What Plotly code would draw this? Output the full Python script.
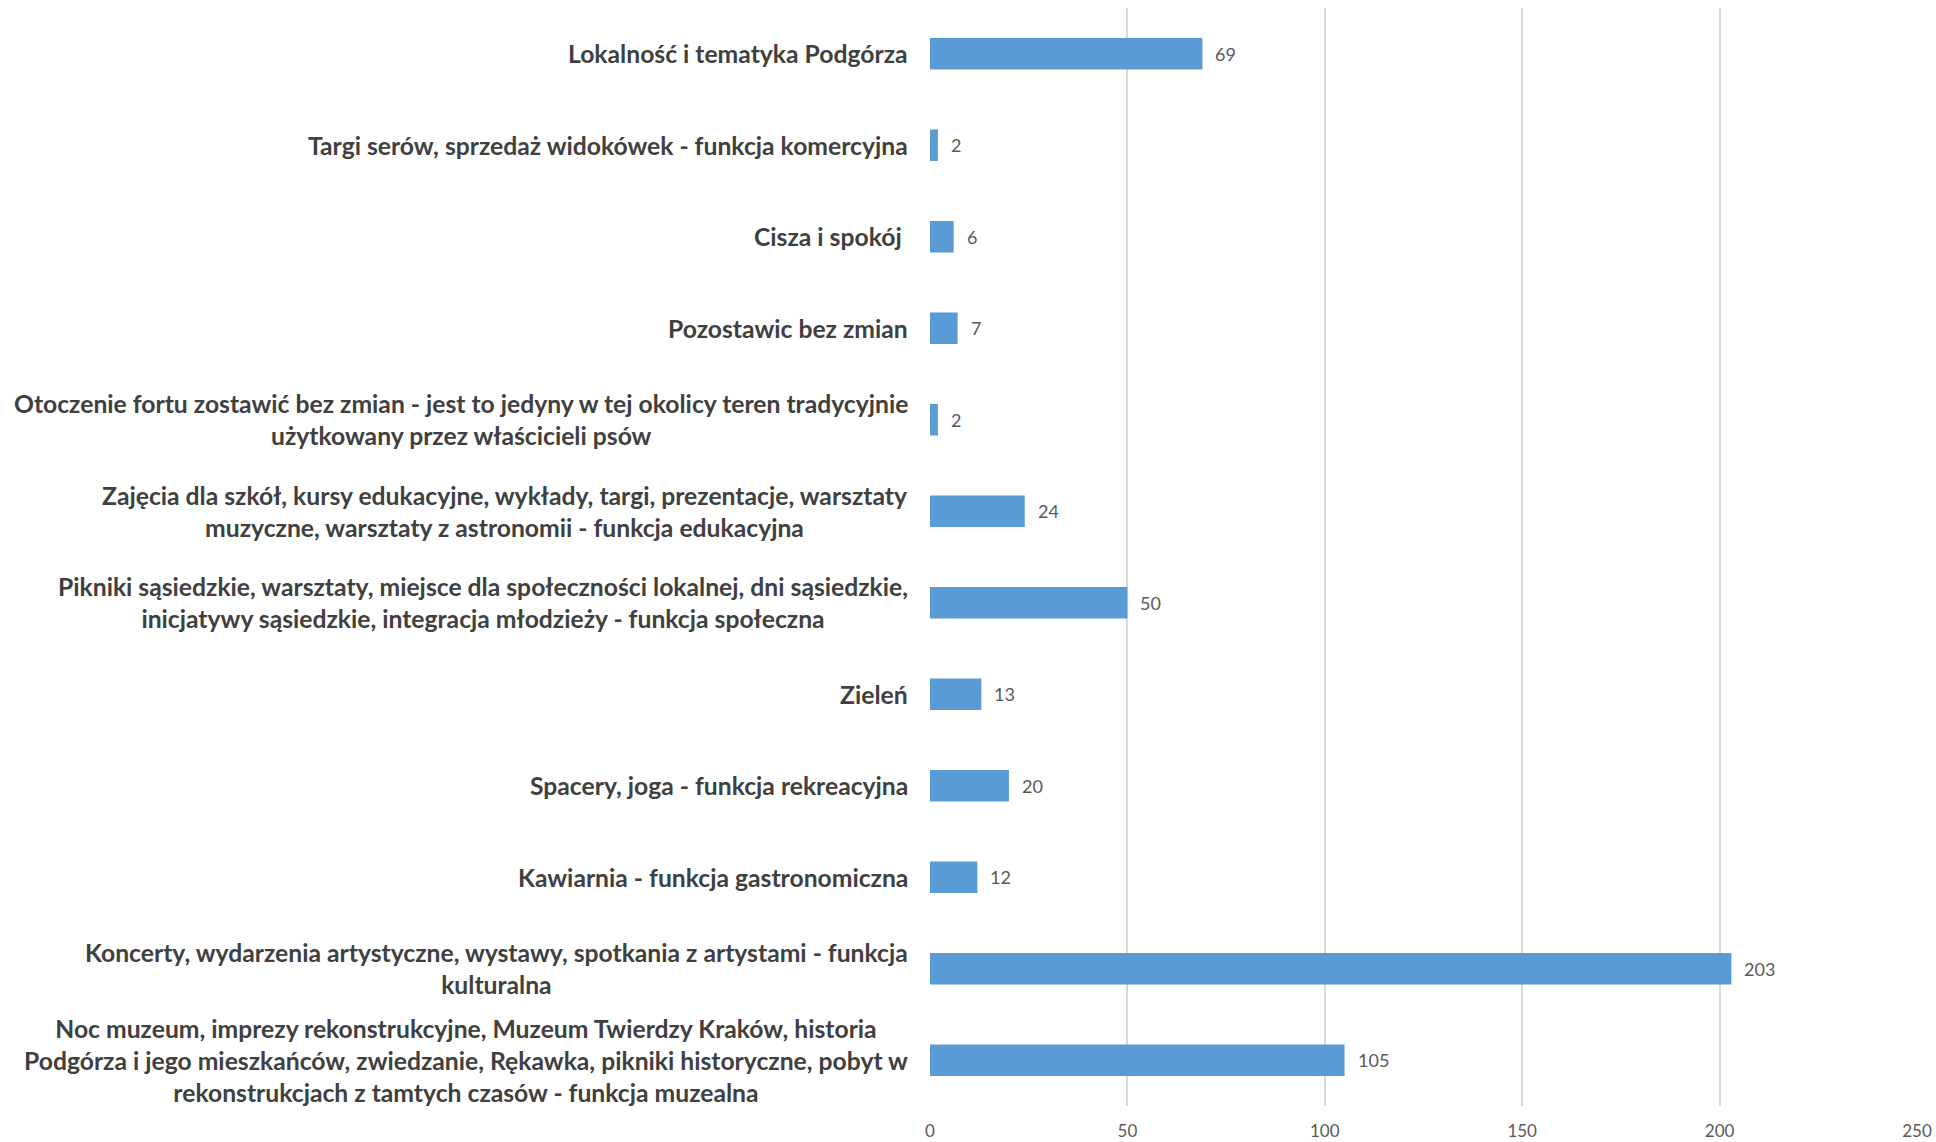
import plotly.graph_objects as go

categories = [
    "Lokalność i tematyka Podgórza",
    "Targi serów, sprzedaż widokówek - funkcja komercyjna",
    "Cisza i spokój ",
    "Pozostawic bez zmian",
    "Otoczenie fortu zostawić bez zmian - jest to jedyny w tej okolicy teren tradycyjnie<br>użytkowany przez właścicieli psów",
    "Zajęcia dla szkół, kursy edukacyjne, wykłady, targi, prezentacje, warsztaty<br>muzyczne, warsztaty z astronomii - funkcja edukacyjna",
    "Pikniki sąsiedzkie, warsztaty, miejsce dla społeczności lokalnej, dni sąsiedzkie,<br>inicjatywy sąsiedzkie, integracja młodzieży - funkcja społeczna",
    "Zieleń",
    "Spacery, joga - funkcja rekreacyjna",
    "Kawiarnia - funkcja gastronomiczna",
    "Koncerty, wydarzenia artystyczne, wystawy, spotkania z artystami - funkcja<br>kulturalna",
    "Noc muzeum, imprezy rekonstrukcyjne, Muzeum Twierdzy Kraków, historia<br>Podgórza i jego mieszkańców, zwiedzanie, Rękawka, pikniki historyczne, pobyt w<br>rekonstrukcjach z tamtych czasów - funkcja muzealna",
]
values = [69, 2, 6, 7, 2, 24, 50, 13, 20, 12, 203, 105]
x_ticks = [0, 50, 100, 150, 200, 250]

ids = list(range(len(categories)))

fig = go.Figure()
fig.add_trace(go.Bar(
    x=values, y=ids, orientation="h",
    marker=dict(color="#5B9BD5", line=dict(width=0)),
    width=0.345,
    hoverinfo="x",
))

annotations = []
for i, (c, v) in enumerate(zip(categories, values)):
    annotations.append(dict(
        x=0, y=i, xref="paper", yref="y", text=c, showarrow=False,
        xanchor="right", yanchor="middle", xshift=-20, align="center",
        font=dict(family="Lato", size=24.7, color="#404040", weight="bold"),
    ))
    annotations.append(dict(
        x=v, y=i, xref="x", yref="y", text=str(v), showarrow=False,
        xanchor="left", yanchor="middle", xshift=11,
        font=dict(family="Lato", size=18, color="#595959"),
    ))

fig.update_layout(
    template="none",
    width=1936, height=1142,
    margin=dict(l=930, r=19, t=8, b=36, autoexpand=False),
    paper_bgcolor="white", plot_bgcolor="white",
    showlegend=False,
    annotations=annotations,
    xaxis=dict(
        range=[0, 250], tickvals=x_ticks, showgrid=True, gridcolor="#D9D9D9",
        gridwidth=1.5, zeroline=False, showline=False, ticks="",
        tickfont=dict(family="Lato", size=17, color="#595959"),
        ticklabelstandoff=13, automargin=False,
    ),
    yaxis=dict(
        range=[len(categories) - 0.5, -0.5], showticklabels=False,
        showgrid=False, zeroline=False, showline=False, ticks="",
        automargin=False,
    ),
)
fig.write_html(
    "out.html",
    config={"displayModeBar": False},
    post_script="document.body.style.margin='0';document.body.style.overflow='hidden';",
)
